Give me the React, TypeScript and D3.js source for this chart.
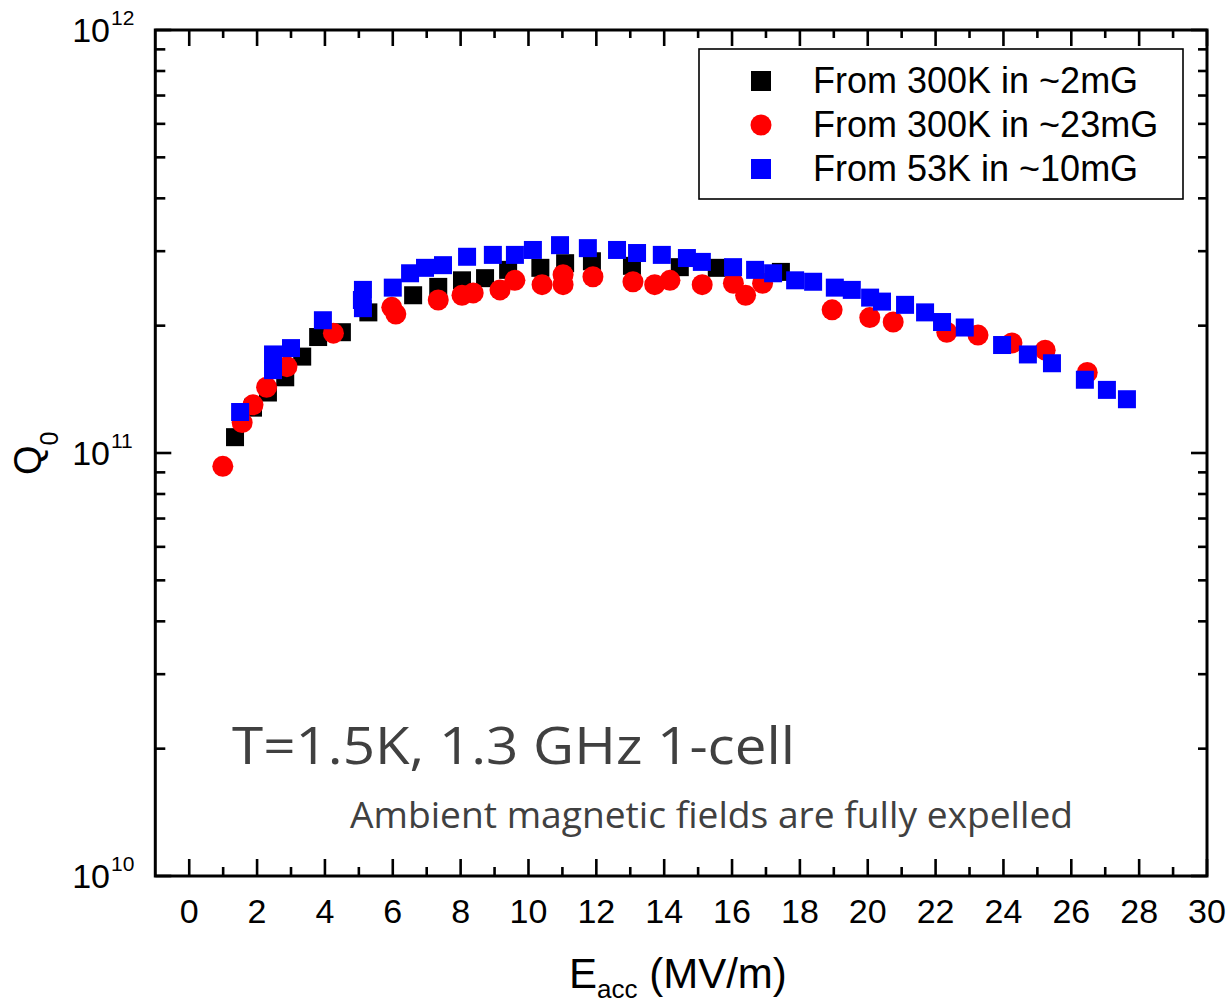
import React from "react";
import * as d3 from "d3";

// ---- data (E_acc in MV/m, Q0 in units of 1e11) ----
const blackE = [1.35, 1.88, 2.32, 2.83, 3.33, 3.8, 4.5, 5.28, 6.6, 7.34, 8.04, 8.72, 9.4, 10.35, 11.08, 11.87, 13.05, 14.46, 15.55, 17.44];
const blackQ = [1.09, 1.28, 1.39, 1.51, 1.69, 1.88, 1.93, 2.15, 2.36, 2.47, 2.56, 2.59, 2.71, 2.74, 2.81, 2.84, 2.77, 2.75, 2.74, 2.68];

const redE = [0.99, 1.56, 1.88, 2.28, 2.88, 4.25, 5.97, 6.09, 7.34, 8.04, 8.37, 9.16, 9.6, 10.4, 11.02, 11.02, 11.9, 13.08, 13.72, 14.17, 15.12, 16.04, 16.4, 16.9, 18.95, 20.06, 20.75, 22.33, 23.25, 24.25, 25.23, 26.47];
const redQ = [0.93, 1.18, 1.3, 1.43, 1.6, 1.92, 2.21, 2.13, 2.3, 2.36, 2.39, 2.43, 2.56, 2.5, 2.64, 2.5, 2.61, 2.54, 2.5, 2.56, 2.5, 2.52, 2.36, 2.52, 2.18, 2.09, 2.04, 1.93, 1.9, 1.82, 1.75, 1.55];

const blueE = [1.5, 2.47, 2.47, 3.0, 3.94, 5.12, 5.09, 5.12, 6.0, 6.51, 6.95, 7.48, 8.19, 8.95, 9.6, 10.13, 10.93, 11.75, 12.61, 13.2, 13.93, 14.67, 15.11, 16.03, 16.68, 17.21, 17.86, 18.39, 19.03, 19.53, 20.07, 20.42, 21.1, 21.69, 22.19, 22.86, 23.96, 24.72, 25.43, 26.4, 27.05, 27.64];
const blueQ = [1.25, 1.71, 1.57, 1.77, 2.06, 2.43, 2.3, 2.2, 2.46, 2.66, 2.74, 2.78, 2.91, 2.94, 2.94, 3.02, 3.1, 3.05, 3.02, 2.97, 2.94, 2.89, 2.83, 2.75, 2.71, 2.66, 2.56, 2.54, 2.46, 2.43, 2.33, 2.28, 2.24, 2.15, 2.04, 1.98, 1.8, 1.71, 1.63, 1.49, 1.41, 1.34];

const legendLabels = ["From 300K in ~2mG", "From 300K in ~23mG", "From 53K in ~10mG"];
const xTickValues = d3.range(0, 31, 2);
const xMinorValues = d3.range(1, 30, 2);
const yMajorExp = [10, 11, 12];
const yMinorMult = [2, 3, 4, 5, 6, 7, 8, 9];

const W = 1229;
const H = 1005;
const L = 155.3, R = 1207, T = 30, B = 876;

export default function App() {
  const x = d3.scaleLinear().domain([-1, 30]).range([L, R]);
  const y = d3.scaleLog().domain([1e10, 1e12]).range([B, T]);

  const yMinor: number[] = [];
  [10, 11].forEach((e) => yMinorMult.forEach((m) => yMinor.push(m * Math.pow(10, e))));

  const sq = 18;
  const font = "'Liberation Sans', Arial, Helvetica, sans-serif";
  const legendRows = [81, 125, 169];

  return (
    <div style={{ position: "absolute", left: 0, top: 0 }}>
      <svg width={W} height={H} viewBox={`0 0 ${W} ${H}`} style={{ display: "block", background: "#fff" }}>
        {/* data */}
        <g>
          {blackE.map((e, i) => (
            <rect key={"b" + i} x={x(e) - sq / 2} y={y(blackQ[i] * 1e11) - sq / 2} width={sq} height={sq} fill="#000" />
          ))}
          {redE.map((e, i) => (
            <circle key={"r" + i} cx={x(e)} cy={y(redQ[i] * 1e11)} r={10.5} fill="#ff0000" />
          ))}
          {blueE.map((e, i) => (
            <rect key={"u" + i} x={x(e) - sq / 2} y={y(blueQ[i] * 1e11) - sq / 2} width={sq} height={sq} fill="#0000ff" />
          ))}
        </g>

        {/* ticks */}
        <g stroke="#000" strokeWidth={2.6}>
          {xTickValues.map((v) => (
            <g key={"xt" + v}>
              <line x1={x(v)} x2={x(v)} y1={B} y2={B - 17} />
              <line x1={x(v)} x2={x(v)} y1={T} y2={T + 16} />
            </g>
          ))}
          {xMinorValues.map((v) => (
            <g key={"xm" + v}>
              <line x1={x(v)} x2={x(v)} y1={B} y2={B - 9} />
              <line x1={x(v)} x2={x(v)} y1={T} y2={T + 8} />
            </g>
          ))}
          {yMajorExp.map((e) => (
            <g key={"yt" + e}>
              <line x1={L} x2={L + 16} y1={y(Math.pow(10, e))} y2={y(Math.pow(10, e))} />
              <line x1={R} x2={R - 16} y1={y(Math.pow(10, e))} y2={y(Math.pow(10, e))} />
            </g>
          ))}
          {yMinor.map((v, i) => (
            <g key={"ym" + i}>
              <line x1={L} x2={L + 10} y1={y(v)} y2={y(v)} />
              <line x1={R} x2={R - 9} y1={y(v)} y2={y(v)} />
            </g>
          ))}
        </g>

        {/* frame */}
        <rect x={L} y={T} width={R - L} height={B - T} fill="none" stroke="#000" strokeWidth={3} />

        {/* x tick labels */}
        <g fontFamily={font} fontSize={34} fill="#000" textAnchor="middle">
          {xTickValues.map((v) => (
            <text key={"xl" + v} x={x(v)} y={923}>{v}</text>
          ))}
        </g>

        {/* y tick labels */}
        <g fontFamily={font} fill="#000">
          {yMajorExp.map((e) => (
            <g key={"yl" + e}>
              <text x={110} y={y(Math.pow(10, e)) + 12} fontSize={34} textAnchor="end">10</text>
              <text x={111} y={y(Math.pow(10, e)) - 5} fontSize={21} textAnchor="start">{e}</text>
            </g>
          ))}
        </g>

        {/* axis titles */}
        <text x={569} y={988} fontFamily={font} fontSize={42} fill="#000">
          E<tspan fontSize={26} dy={10}>acc</tspan>
          <tspan dy={-10}> (MV/m)</tspan>
        </text>
        <text transform="translate(41,475) rotate(-90)" fontFamily={font} fontSize={38} fill="#000">
          Q<tspan fontSize={25} dy={17}>0</tspan>
        </text>

        {/* legend */}
        <rect x={699} y={49} width={484} height={150} fill="#fff" stroke="#000" strokeWidth={1.6} />
        <rect x={761 - 10} y={legendRows[0] - 10} width={20} height={20} fill="#000" />
        <circle cx={761} cy={legendRows[1]} r={10.5} fill="#ff0000" />
        <rect x={761 - 10} y={legendRows[2] - 10} width={20} height={20} fill="#0000ff" />
        <g fontFamily={font} fontSize={36} fill="#000">
          {legendLabels.map((s, i) => (
            <text key={"lg" + i} x={813} y={legendRows[i] + 12}>{s}</text>
          ))}
        </g>

        {/* annotations */}
        <text x={232} y={764} fontFamily="'Open Sans', 'Noto Sans', sans-serif" fontSize={52} fill="#404040"
          textLength={563} lengthAdjust="spacingAndGlyphs">T=1.5K, 1.3 GHz 1-cell</text>
        <text x={350} y={828} fontFamily="'Open Sans', 'Noto Sans', sans-serif" fontSize={37} fill="#404040"
          textLength={723} lengthAdjust="spacingAndGlyphs">Ambient magnetic fields are fully expelled</text>
      </svg>
    </div>
  );
}
